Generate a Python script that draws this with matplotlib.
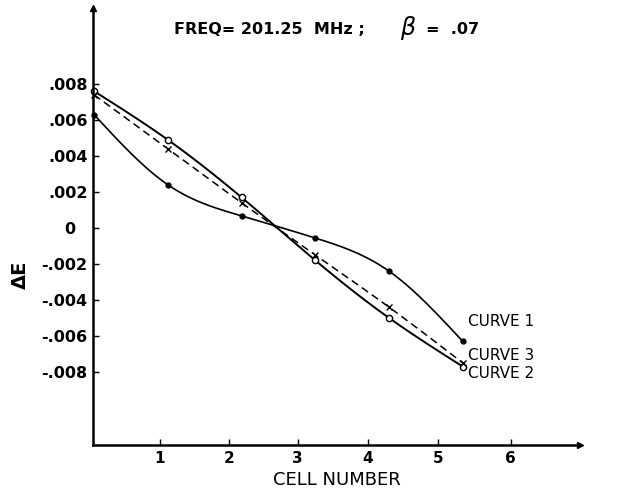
import numpy as np
import matplotlib
matplotlib.use("Agg")
import matplotlib.pyplot as plt

# ---- data ----
cells = [0, 1, 2, 3, 4, 5]
curve1 = [0.0063, 0.0024, 0.00067, -0.00056, -0.0024, -0.0063]
curve2 = [0.0076, 0.0049, 0.0017, -0.0018, -0.0050, -0.0077]
curve3 = [0.0074, 0.0044, 0.0014, -0.0015, -0.0044, -0.0075]
xtick_labels = ["1", "2", "3", "4", "5", "6"]
xtick_pos = [0.89, 1.83, 2.76, 3.71, 4.67, 5.65]
ytick_vals = [0.008, 0.006, 0.004, 0.002, 0.0, -0.002, -0.004, -0.006, -0.008]
ytick_labels = [".008", ".006", ".004", ".002", "0  ", "-.002", "-.004", "-.006", "-.008"]
curve_names = ["CURVE 1", "CURVE 3", "CURVE 2"]


def natural_spline(x, y, n=200):
    x = np.asarray(x, float)
    y = np.asarray(y, float)
    m = len(x)
    h = np.diff(x)
    A = np.zeros((m, m))
    b = np.zeros(m)
    A[0, 0] = 1
    A[-1, -1] = 1
    for i in range(1, m - 1):
        A[i, i - 1] = h[i - 1]
        A[i, i] = 2 * (h[i - 1] + h[i])
        A[i, i + 1] = h[i]
        b[i] = 3 * ((y[i + 1] - y[i]) / h[i] - (y[i] - y[i - 1]) / h[i - 1])
    c = np.linalg.solve(A, b)
    xs = np.linspace(x[0], x[-1], n)
    ys = np.empty_like(xs)
    for k, xv in enumerate(xs):
        i = min(np.searchsorted(x, xv, side="right") - 1, m - 2)
        dx = xv - x[i]
        bi = (y[i + 1] - y[i]) / h[i] - h[i] * (2 * c[i] + c[i + 1]) / 3
        di = (c[i + 1] - c[i]) / (3 * h[i])
        ys[k] = y[i] + bi * dx + c[i] * dx ** 2 + di * dx ** 3
    return xs, ys


W, H = 618, 496
fig = plt.figure(figsize=(W / 100, H / 100), dpi=100)
ax = fig.add_axes([93 / W, (H - 445) / H, (580 - 93) / W, (445 - 8) / H])

# curves
xs, ys = natural_spline(cells, curve1)
ax.plot(xs, ys, color="black", lw=1.2)
ax.plot(cells, curve1, "o", color="black", ms=3.5, clip_on=False)

xs, ys = natural_spline(cells, curve2)
ax.plot(xs, ys, color="black", lw=1.4)
ax.plot(cells, curve2, "o", mfc="white", mec="black", mew=1.0, ms=4.5, clip_on=False)

xs, ys = natural_spline(cells, curve3)
ax.plot(xs, ys, color="black", lw=1.1, ls=(0, (5, 3)))
ax.plot(cells, curve3, "x", color="black", ms=4.5, mew=1.0, clip_on=False)

ax.set_xlim(-0.014, 6.59)
ax.set_ylim(-0.01206, 0.01222)

for s in ["top", "right"]:
    ax.spines[s].set_visible(False)
for s in ["left", "bottom"]:
    ax.spines[s].set_linewidth(1.8)

ax.set_xticks(xtick_pos)
ax.set_xticklabels(xtick_labels, fontsize=11, fontweight="bold")
ax.set_yticks(ytick_vals)
ax.set_yticklabels(ytick_labels, fontsize=11.5, fontweight="bold")
ax.tick_params(axis="both", direction="in", length=4, width=1.0, pad=4)

# arrows at axis ends
ax.plot([1], [0], ">", color="black", ms=5, transform=ax.transAxes, clip_on=False)
ax.plot([0], [1], "^", color="black", ms=5, transform=ax.transAxes, clip_on=False)

ax.set_xlabel("CELL NUMBER", fontsize=13, labelpad=4)
ax.set_ylabel("ΔE", fontsize=14, fontweight="bold")
ax.yaxis.set_label_coords(-0.13, 0.39)

# curve labels
label_y = [curve1[-1] + 0.0011, curve3[-1] + 0.00044, curve2[-1] - 0.00036]
for name, yv in zip(curve_names, label_y):
    ax.text(5.07, yv, name, fontsize=11, va="center", ha="left")

fig.text(174 / W, 1 - 29 / H, "FREQ= 201.25  MHz ;", fontsize=11.5,
         fontweight="bold", va="center", ha="left")
fig.text(400 / W, 1 - 28 / H, "β", fontsize=17, style="italic",
         va="center", ha="left")
fig.text(426 / W, 1 - 29 / H, "=  .07", fontsize=11.5, fontweight="bold",
         va="center", ha="left")

fig.savefig("out.png", dpi=100)
